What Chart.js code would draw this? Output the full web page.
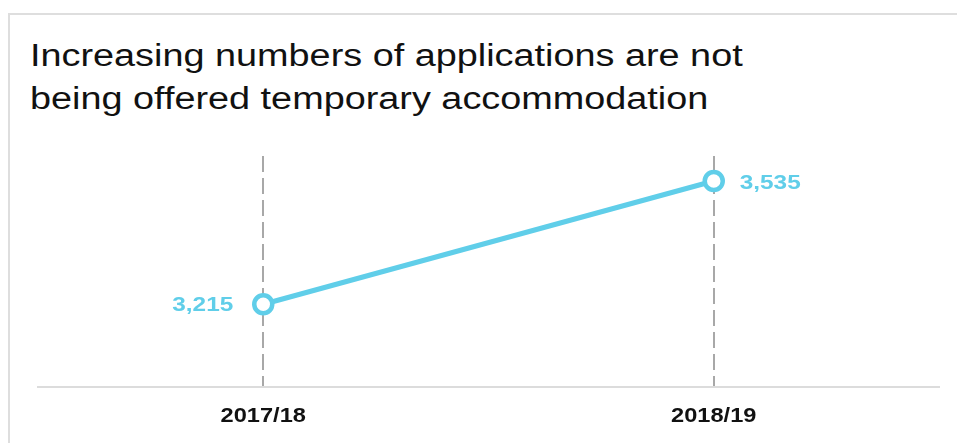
<!DOCTYPE html>
<html lang="en">
	<head>
		<meta charset="utf-8" />
		<title>Temporary accommodation applications</title>
		<script src="https://cdn.jsdelivr.net/npm/chart.js@4/dist/chart.umd.min.js"></script>
		<style>
			html, body { margin: 0; padding: 0; background: #fff; overflow: hidden; }
			.frame {
				position: absolute; left: 8px; top: 13px; width: 960px; height: 440px;
				border-left: 2px solid #dedede; border-top: 2px solid #dedede;
			}
			.title {
				position: absolute; left: 30px; top: 34px; white-space: nowrap;
				font-family: "Liberation Sans", Arial, Helvetica, sans-serif;
				font-size: 31px; line-height: 43px; color: #111;
				transform: scaleX(1.22); transform-origin: left top;
			}
			.chart-box { position: absolute; left: 0; top: 0; width: 957px; height: 443px; }
		</style>
	</head>

	<body>
		<div class="frame"></div>
		<div class="title">Increasing numbers of applications are not<br />being offered temporary accommodation</div>
		<div class="chart-box"><canvas id="myChart"></canvas></div>

		<script>
			var years = ["2017/18", "2018/19"];
			var applications = [3215, 3535];
			var labelSides = ["left", "right"];

			var blue = "rgb(96, 206, 233)";
			var fontFamily = "'Liberation Sans', Arial, sans-serif";

			// draws text a little wider than the font, like the original
			function wideText(ctx, text, x, y, align, stretch) {
				ctx.save();
				ctx.translate(x, y);
				ctx.scale(stretch, 1);
				ctx.textAlign = align;
				ctx.fillText(text, 0, 0);
				ctx.restore();
			}

			// value labels beside each point + category labels under the axis
			var chartLabels = {
				id: "chartLabels",
				afterDatasetsDraw: function (chart) {
					var ctx = chart.ctx;
					var meta = chart.getDatasetMeta(0);
					ctx.save();
					ctx.textBaseline = "middle";
					ctx.font = "bold 21px " + fontFamily;
					ctx.fillStyle = blue;
					meta.data.forEach(function (pt, i) {
						var text = applications[i].toLocaleString("en-GB");
						if (labelSides[i] === "left") {
							wideText(ctx, text, pt.x - 30, pt.y + 1, "right", 1.16);
						} else {
							wideText(ctx, text, pt.x + 26, pt.y + 2, "left", 1.16);
						}
					});

					var xs = chart.scales.x;
					ctx.font = "bold 20px " + fontFamily;
					ctx.fillStyle = "#111";
					years.forEach(function (yr, i) {
						wideText(ctx, yr, xs.getPixelForTick(i), xs.top + 29, "center", 1.18);
					});
					ctx.restore();
				},
			};

			var ctx = document.getElementById("myChart").getContext("2d");
			var myChart = new Chart(ctx, {
				type: "line",
				data: {
					labels: years,
					datasets: [
						{
							data: applications,
							borderColor: blue,
							borderWidth: 5,
							pointRadius: 9,
							pointBorderWidth: 4.5,
							pointBackgroundColor: "#fff",
							pointBorderColor: blue,
							pointHoverRadius: 9,
							tension: 0,
						},
					],
				},
				options: {
					responsive: true,
					maintainAspectRatio: false,
					animation: false,
					layout: {
						padding: { left: 38, right: 18, top: 156, bottom: 0 },
					},
					plugins: {
						legend: { display: false },
						tooltip: { enabled: false },
					},
					scales: {
						x: {
							offset: true,
							afterFit: function (scale) {
								scale.height = 56;
							},
							grid: {
								offset: false,
								drawTicks: false,
								color: "#a8a8a8",
								lineWidth: 2,
							},
							border: {
								display: true,
								color: "#dcdcdc",
								width: 2,
								dash: [16, 6],
							},
							ticks: { display: false },
						},
						y: {
							display: false,
							min: 3000,
							max: 3600,
						},
					},
				},
				plugins: [chartLabels],
			});
		</script>
	</body>
</html>
